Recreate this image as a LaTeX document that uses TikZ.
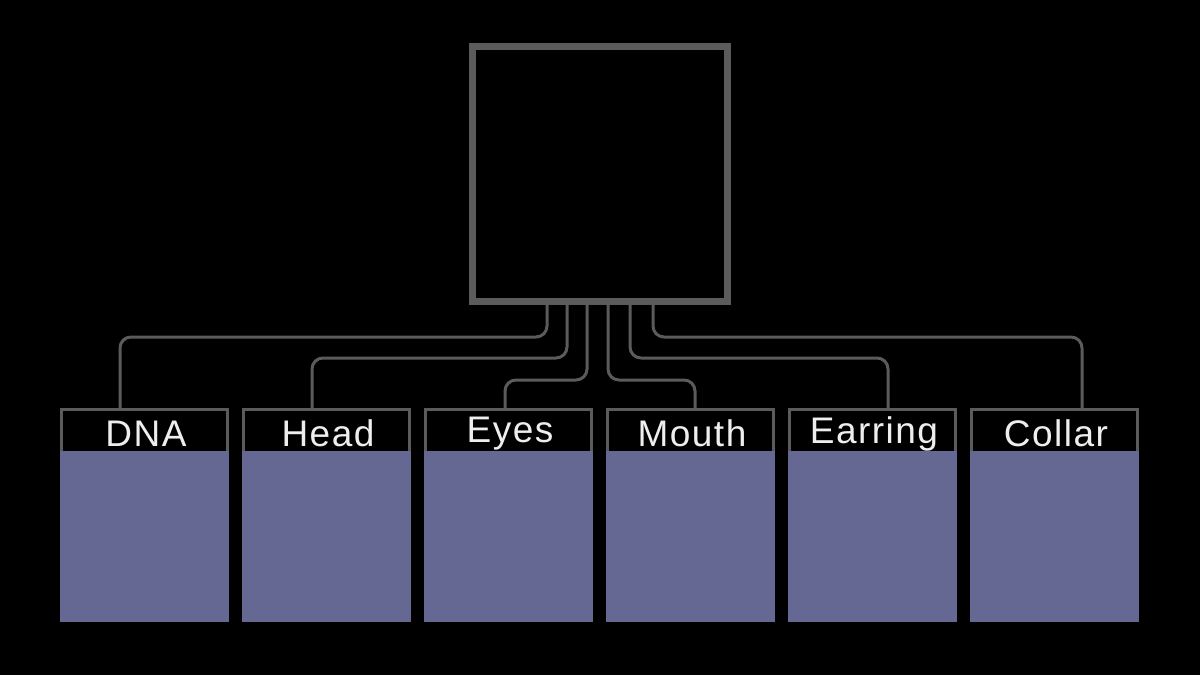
\documentclass[tikz,border=0pt]{standalone}
\usepackage{fontspec}
\setmainfont{Liberation Sans}[LetterSpace=4]
\definecolor{linegray}{HTML}{5B5B5B}
\definecolor{boxpurple}{HTML}{656892}
\definecolor{txtwhite}{HTML}{EEEEEE}
\begin{document}
\begin{tikzpicture}[x=1pt,y=-1pt,
  conn/.style={draw=linegray,line width=3pt,rounded corners=11pt},
  topbox/.style={draw=linegray,line width=7pt,fill=black,minimum width=255pt,minimum height=255pt,inner sep=0pt},
  labbox/.style={draw=linegray,line width=3pt,fill=black,minimum width=166pt,minimum height=42.5pt,inner sep=0pt,outer sep=0pt},
  body/.style={fill=boxpurple},
  labtxt/.style={text=txtwhite,font=\fontsize{37}{40}\selectfont,anchor=center,inner sep=0pt}]
\fill[black] (0,0) rectangle (1200,675);
% label boxes
\foreach \n/\x/\t in {dna/144.5/DNA,head/326.5/Head,eyes/508.5/Eyes,mouth/690.5/Mouth,earring/872.5/Earring,collar/1054.5/Collar}{
  \node[labbox] (\n) at (\x,430.75) {};
  \fill[body] (\x-84.5,451) rectangle (\x+84.5,621.5);
  \node[labtxt] (\n t) at (\x+1.5,433.5) {\t};
}
% start points under top box
\coordinate (s1) at (547,300);
\coordinate (s2) at (567,300);
\coordinate (s3) at (587,300);
\coordinate (s4) at (608,300);
\coordinate (s5) at (630,300);
\coordinate (s6) at (653,300);
\draw[conn] (s1) -- ++(0,37) -| ([xshift=-24.5pt]dna.north);
\draw[conn] (s2) -- ++(0,58) -| ([xshift=-14.5pt]head.north);
\draw[conn] (s3) -- ++(0,80) -| ([xshift=-3.5pt]eyes.north);
\draw[conn] (s4) -- ++(0,80) -| ([xshift=4.5pt]mouth.north);
\draw[conn] (s5) -- ++(0,58) -| ([xshift=15.5pt]earring.north);
\draw[conn] (s6) -- ++(0,37) -| ([xshift=27.5pt]collar.north);
% top box
\node[topbox] (top) at (599.5,173.5) {};
\end{tikzpicture}
\end{document}
